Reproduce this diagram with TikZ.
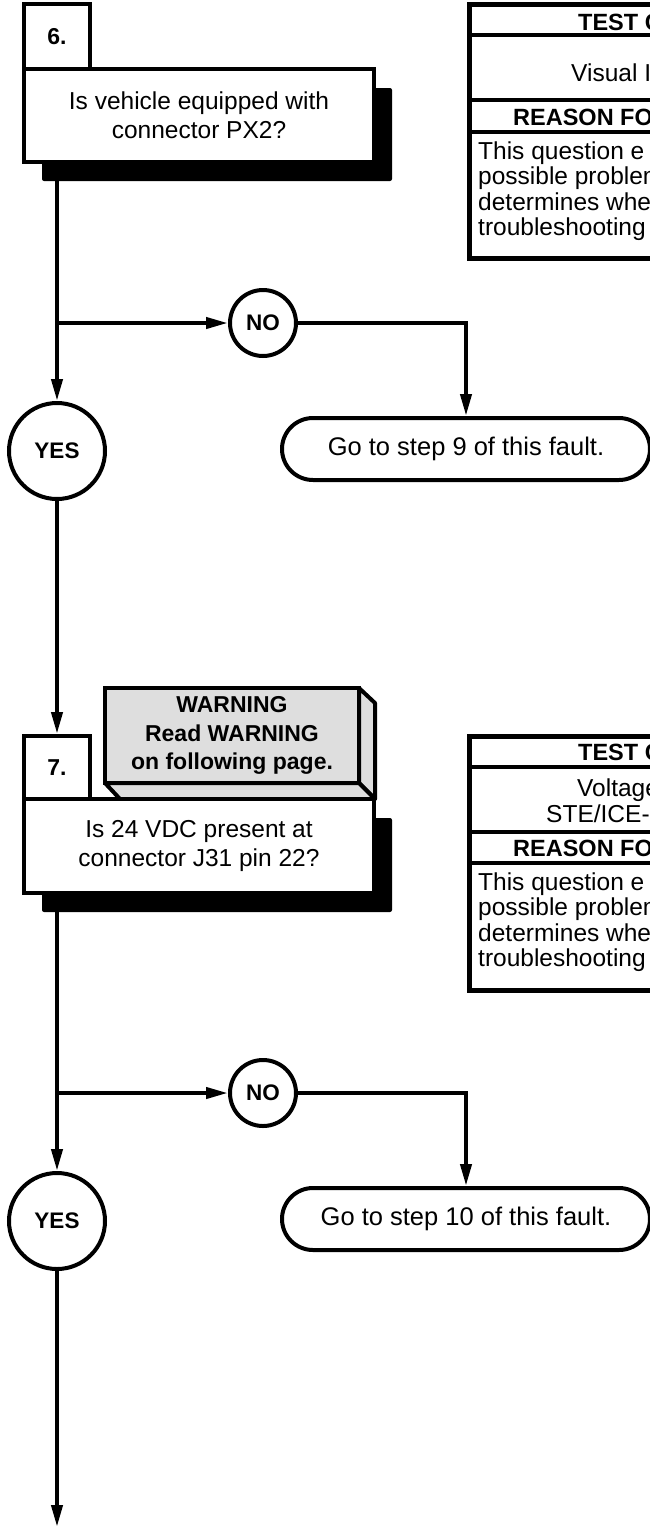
\documentclass[tikz,border=0pt]{standalone}
\usepackage{fontspec}
\setmainfont{Liberation Sans}
\usetikzlibrary{arrows.meta}
\newcommand{\myreg}{\fontsize{24.5}{29}\selectfont}
\newcommand{\mygo}{\fontsize{25.5}{29}\selectfont}
\newcommand{\mybold}{\fontsize{23}{28.5}\selectfont\bfseries}
\newcommand{\mycirc}{\fontsize{22.5}{25}\selectfont\bfseries}
\newcommand{\mytb}{\fontsize{23.5}{25}\selectfont\bfseries}
\newcommand{\mytr}{\fontsize{24.5}{26}\selectfont}
\begin{document}
\begin{tikzpicture}[x=1pt,y=-1pt,
  conn/.style={line width=4pt},
  arr/.style={line width=4pt,-{Triangle[length=22pt,width=11pt]}},
  qbox/.style={draw,line width=4pt,fill=white,inner sep=0pt,minimum width=350pt,align=center,font=\myreg},
  shadowbox/.style={fill=black,rounded corners=2pt,inner sep=0pt,minimum width=350pt},
  numbox/.style={draw,line width=4pt,fill=white,inner sep=0pt,minimum width=66pt,font=\mybold},
  yn/.style={draw,circle,line width=4pt,fill=white,inner sep=0pt,font=\mycirc},
  gobox/.style={draw,line width=4pt,rounded corners=31pt,fill=white,minimum width=368pt,minimum height=62pt,inner sep=0pt,font=\mygo},
  tl/.style={anchor=base west,inner sep=0pt},
  tframe/.style={line width=5pt},
  trow/.style={line width=4pt},
  wface/.style={draw,line width=4pt,fill=black!13,line join=round}
]
\useasboundingbox (0,0) rectangle (650,1527);
\clip (0,0) rectangle (650,1527);

% ---------------- Step 6 ----------------
\node[shadowbox,minimum height=93pt] (q6s) at (217,134.5) {};
\node[qbox,minimum height=93pt] (q6) at (199,115.5) {Is vehicle equipped with\\connector PX2?};
\node[numbox,minimum height=65pt] (n6) at (57,36.5) {6.};

% test box 1
\draw[tframe] (469,4) rectangle (720,258);
\draw[trow] (469,35) -- (720,35);
\draw[trow] (469,100) -- (720,100);
\draw[trow] (469,132) -- (720,132);
\node[tl,font=\mytb] (t6a) at (578,30.5) {TEST C};
\node[tl,font=\mytr] (t6b) at (571,81) {Visual I};
\node[tl,font=\mytb] (t6c) at (513,125.5) {REASON FO};
\node[tl,font=\mytr] (t6d) at (478,159) {This question e};
\node[tl,font=\mytr] (t6e) at (478,184.5) {possible problem};
\node[tl,font=\mytr] (t6f) at (478,210) {determines whe};
\node[tl,font=\mytr] (t6g) at (478,235.5) {troubleshooting};

\node[yn,minimum size=66pt] (no6) at (263,323) {NO};
\node[yn,minimum size=96pt] (yes6) at (57,451) {YES};
\node[gobox] (go9) at (466,449) {Go to step 9 of this fault.};

\draw[arr] (q6s.south -| yes6.north) -- (yes6.north);
\draw[arr] (yes6.north |- no6.west) -- (no6.west);
\draw[arr] (no6.east) -| (go9.north);

% ---------------- Step 7 ----------------
\draw[wface] (359,688) -- (375,703) -- (375,799) -- (359,783) -- cycle;
\draw[wface] (105,783) -- (359,783) -- (375,799) -- (120,799) -- cycle;
\node[draw,line width=4pt,fill=black!13,minimum width=254pt,minimum height=95pt,inner sep=0pt,align=center,font=\mybold] (warn) at (232,735.5) {WARNING\\Read WARNING\\on following page.};

\node[shadowbox,minimum height=94pt] (q7s) at (217,865) {};
\node[qbox,minimum height=94pt] (q7) at (199,846) {Is 24 VDC present at\\connector J31 pin 22?};
\node[numbox,minimum height=63pt] (n7) at (57,767.5) {7.};

% test box 2
\draw[tframe] (469,736) rectangle (720,990);
\draw[trow] (469,767) -- (720,767);
\draw[trow] (469,832) -- (720,832);
\draw[trow] (469,863) -- (720,863);
\node[tl,font=\mytb] (t7a) at (578,760) {TEST C};
\node[tl,font=\mytr] (t7b) at (577,796) {Voltage};
\node[tl,font=\mytr] (t7c) at (546,822) {STE/ICE-R};
\node[tl,font=\mytb] (t7d) at (513,856) {REASON FO};
\node[tl,font=\mytr] (t7e) at (478,890) {This question e};
\node[tl,font=\mytr] (t7f) at (478,915.5) {possible problem};
\node[tl,font=\mytr] (t7g) at (478,941) {determines whe};
\node[tl,font=\mytr] (t7h) at (478,966.5) {troubleshooting};

\node[yn,minimum size=66pt] (no7) at (263,1093) {NO};
\node[yn,minimum size=96pt] (yes7) at (57,1221) {YES};
\node[gobox] (go10) at (466,1219) {Go to step 10 of this fault.};
\coordinate (end7) at (57,1527);

\draw[arr] (yes6.south) -- (n7.north);
\draw[arr] (q7s.south -| yes7.north) -- (yes7.north);
\draw[arr] (yes7.north |- no7.west) -- (no7.west);
\draw[arr] (no7.east) -| (go10.north);
\draw[arr] (yes7.south) -- (end7);
\end{tikzpicture}
\end{document}
